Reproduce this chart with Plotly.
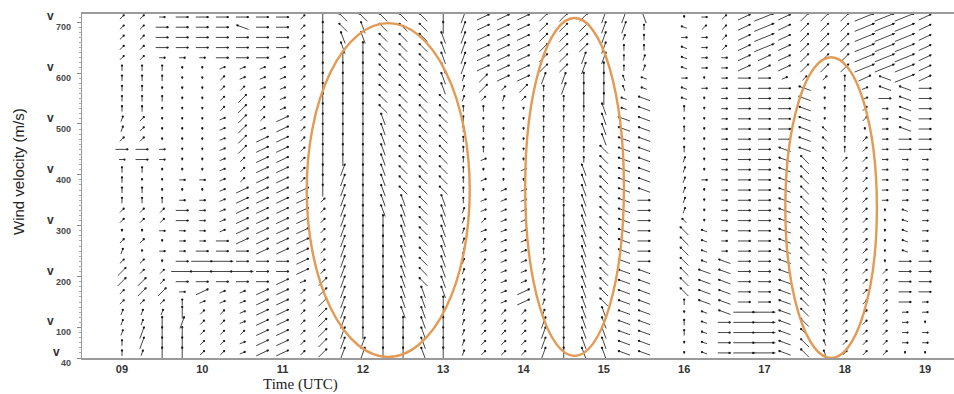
import plotly.graph_objects as go
import math

# ---------------- data ----------------
# column times (hours UTC), every 15 min from 09:00 to 19:00
times = [9 + 0.25 * k for k in range(41)]
# row heights (axis units), bottom to top
heights = [50 + 20 * r for r in range(34)]

# one string per column, one code per row (bottom -> top)
# code = orientation/length class of the drawn stick (see CODE_STYLE below)
columns = [
    "eeddd" "ccCCc" "dc." "cc" "eeee" "aA" "c" "dd" "eeeee" "ccccc",      # 09:00
    "dDDdd" "cCCcc" ".c." "cc" "ee.e" "AA" "c" "cc" "eeeee" "ccccc",      # 09:15
    "EEEEd" "cCcc." "a.a" "cc" "e..." "aa" "." ".." ".e.ee" "aAAAa",      # 09:30
    "EEEDE" "eaA=A" "aaa" "AA" "a.a." ".." "." ".." "....." "aAAAA",      # 09:45
    "ccccc" "bBA==" "Aaa" "aa" "a.a." "..." "......." "aAAAA",            # 10:00
    "ccccc" "bb" "A==" "AAb" "bb" "bbbb" "bbb" "bb" "ccc" "cb" "AAAAA",   # 10:15
    "bbcbb" "bb" "A=A" "ABB" "BB" "BBcc" "cCC" "CC" "CCc" "bb" "AAAHA",   # 10:30
    "BBBBB" "BB" "AAA" "BBB" "BB" "BBBB" "BBB" "bc" "ccb" "bb" "AAAAA",   # 10:45
    "BBBBB" "BB" "BAA" "BBB" "BB" "BBBB" "BBB" "BB" "bbb" "bb" "bAAAA",   # 11:00
    "ccccc" "cc" "bBB" "BBB" "BB" "BBcc" "ccc" "cc" "ccc" "cc" "ccccc",   # 11:15
    "CCCCC" "CCCcc" "cccccc" "EEEEEEEEEEEEEEEEEE",                        # 11:30
    "DDDDD" "DDDDD" "DDDDD" "DDDDE" "EEEEE" "EEEEE" "FFGG",               # 11:45
    "DDEEE" "EEEEEEEEEEEEEEEEEEEEEEEEE" "EFFG",                           # 12:00
    "EEEEE" "EEEEE" "EEEEF" "FFFFF" "FFFFG" "GGGGG" "GGGG",               # 12:15
    "EEEEF" "FFFFF" "FFFFF" "FGGGG" "GGGGG" "GGGGG" "GGGG",               # 12:30
    "FFFFF" "FFGGG" "GGGGG" "GGGGG" "GGGGG" "GGGGG" "GGGG",               # 12:45
    "EEEEE" "EFFFF" "FFFFF" "FGGGG" "GGGGG" "GFFFF" "FFEE",               # 13:00
    "ddddd" "ddddd" "ddddd" "eeeee" "eeeee" "dddDD" "DDDD",               # 13:15
    "ccccc" "ccccc" "bcbcb" "b.b.b" "e.e.e" "cCC" "BBBBBB",               # 13:30
    "ccccc" "bbbbb" "bbbbb" "bb..." "....." "dcB" "BBBBBB",               # 13:45
    "ccccc" "BBbbb" "bbbbb" "bb.b." "....." "cCB" "BBBBBB",               # 14:00
    "DDDDd" "ddddd" "eeeee" "eeeee" "eeeee" "eeD" "CCCCCC",               # 14:15
    "EEEEE" "EEEEE" "EEEEE" "eeeee" "eeeee" "eDD" "CCCCCC",               # 14:30
    "FFFFF" "FFFFF" "FFFFF" "FFFFe" "eeeee" "EEE" "DDCCCC",               # 14:45
    "FFFFF" "GGGGG" "GGGGG" "GGGGG" "GFFFF" "EEE" "EDDDDD",               # 15:00
    "HHHHH" "HHHHH" "HHHHH" "HHHHH" "HHHHh" "hff" "eeedDD",               # 15:15
    "HHHHH" "HHHHA" "AAAAA" "AHHHH" "HHHHH" "Hhh" "ddeeeF",               # 15:30
    "                                  ",                                 # 15:45 (missing)
    "..ee." "eGGGG" "GGGgd" "ddddd" "e.e.e" "hha" "hhhah.",               # 16:00
    "hhhhh" "HHHHh" "hhh.." "..a.." "....." ".a." "aaaaca",               # 16:15
    "AAAAH" "HHHHH" "aaaaa" "aaaaa" "aaaaa" "aaa" "aacccc",               # 16:30
    "=====" "AAAAA" "AAAAA" "AAAAA" "AAAAA" "AAA" "BBBBBB",               # 16:45
    "=====" "AAAAA" "AAAAA" "AAAAA" "AAAAA" "AAA" "BB~~~~",               # 17:00
    "HHHHH" "HHHHH" "HHHHH" "HHHHH" "HAAAA" "AAb" "BBBBBB",               # 17:15
    "GGGGG" "GGGGG" "GGGGG" "GGGGG" "HHHHH" "HHc" "CCCCCC",               # 17:30
    "fffff" "fffgg" "ggggg" "ggggg" "ggg.." "..c" "CCCCCC",               # 17:45
    "ccccc" "ccccc" "ccccc" "ccccc" "eeeee" "eee" "CCCCCC",               # 18:00
    "ccccc" "ccccc" "ccccc" "ccccc" "cc.cc" "bbB" "~~~~~~",               # 18:15
    "ccccc" "cccc." "....." "aaaaa" "aaaaa" "AHH" "~~~~~~",               # 18:30
    ".aaaa" "AAAAA" "hhhhh" "aaaaa" "AAHHH" "HH~" "~~~~~~",               # 18:45
    ".aa.a" "aAAAA" "aaaaa" "aaaaa" "AAAAA" "AAB" "BBBBBB",               # 19:00
]

xtick_vals = [9, 10, 11, 12, 13, 14, 15, 16, 17, 18, 19]
xtick_text = ["09", "10", "11", "12", "13", "14", "15", "16", "17", "18", "19"]
ytick_vals = [40, 100, 200, 300, 400, 500, 600, 700]

# highlighted regions (time range, height range)
ellipse_t0 = [11.30, 14.02, 17.26]
ellipse_t1 = [13.33, 15.25, 18.40]
ellipse_h0 = [42, 44, 40]
ellipse_h1 = [698, 708, 631]

# ---------------- styling ----------------
# code -> (angle in degrees, stick length in px)
CODE_STYLE = {
    ".": (90, 2),
    "a": (0, 6), "A": (0, 13), "=": (0, 22),
    "b": (22, 6), "B": (25, 14), "~": (22, 22),
    "c": (45, 6), "C": (45, 12),
    "d": (70, 6), "D": (70, 13),
    "e": (90, 6), "E": (90, 13),
    "f": (110, 6), "F": (110, 13),
    "g": (135, 6), "G": (135, 12),
    "h": (160, 6), "H": (160, 13),
}

W, H = 954, 394
ML, MR, MT, MB = 82, 0, 14, 36
X0, X1 = 8.502, 19.36
Y0, Y1 = 40, 716
plot_w = W - ML - MR
plot_h = H - MT - MB
kx = plot_w / (X1 - X0)   # px per hour
ky = plot_h / (Y1 - Y0)   # px per unit

lx, ly, hx, hy = [], [], [], []
for t, col in zip(times, columns):
    col = col.ljust(len(heights))[:len(heights)]
    for h, ch in zip(heights, col):
        if ch not in CODE_STYLE:
            continue
        ang, L = CODE_STYLE[ch]
        a = math.radians(ang)
        dx = 0.5 * L * math.cos(a) / kx
        dy = 0.5 * L * math.sin(a) / ky
        lx += [t - dx, t + dx, None]
        ly += [h - dy, h + dy, None]
        hx.append(t + dx * 0.8)
        hy.append(h + dy * 0.8)

fig = go.Figure()
fig.add_trace(go.Scatter(x=lx, y=ly, mode="lines",
                         line=dict(color="#454545", width=1),
                         hoverinfo="skip", showlegend=False))
fig.add_trace(go.Scatter(x=hx, y=hy, mode="markers",
                         marker=dict(color="#1a1a1a", size=2.3),
                         hoverinfo="skip", showlegend=False))

shapes = []
for t0, t1, h0, h1 in zip(ellipse_t0, ellipse_t1, ellipse_h0, ellipse_h1):
    shapes.append(dict(type="circle", xref="x", yref="y",
                       x0=t0, x1=t1, y0=h0, y1=h1,
                       line=dict(color="#E39A55", width=2.4)))

annotations = []
for v in ytick_vals:
    s = str(v)
    annotations.append(dict(xref="paper", yref="y", x=(73 - ML) / plot_w, y=v,
                            yshift=-5, xanchor="right", yanchor="middle",
                            text=s, showarrow=False,
                            font=dict(size=9, color="#4a4a4a", weight="bold",
                                      family="Liberation Sans")))
    annotations.append(dict(xref="paper", yref="y",
                            x=(73 - 5.2 * len(s) - 1 - ML) / plot_w, y=v,
                            yshift=6, xanchor="right", yanchor="middle",
                            text="v", showarrow=False,
                            font=dict(size=12, color="#333333", weight="bold",
                                      family="Liberation Sans")))
annotations.append(dict(xref="paper", yref="paper", x=(300 - ML) / plot_w,
                        y=-(394 - (H - MB)) / plot_h, xanchor="center",
                        yanchor="bottom", text="Time (UTC)", showarrow=False,
                        borderpad=0,
                        font=dict(size=15, color="#222222",
                                  family="Liberation Serif")))
annotations.append(dict(xref="paper", yref="paper", x=-(ML - 18) / plot_w,
                        y=(H - MB - 172) / plot_h, xanchor="center",
                        yanchor="middle", text="Wind velocity (m/s)",
                        textangle=-90, showarrow=False,
                        font=dict(size=15, color="#222222",
                                  family="Liberation Sans")))

fig.update_layout(
    width=W, height=H,
    margin=dict(l=ML, r=MR, t=MT, b=MB),
    paper_bgcolor="white", plot_bgcolor="white",
    shapes=shapes, annotations=annotations,
    xaxis=dict(range=[X0, X1], tickvals=xtick_vals, ticktext=xtick_text,
               tickfont=dict(size=11, color="#333333", weight="bold",
                             family="Liberation Sans"),
               showgrid=False, zeroline=False, showline=True,
               linecolor="#9a9a9a", linewidth=1.5, mirror=True,
               ticks="", ticklabelstandoff=0, fixedrange=True),
    yaxis=dict(range=[Y0, Y1], tickvals=ytick_vals, showticklabels=False,
               showgrid=False, zeroline=False, showline=True,
               linecolor="#9a9a9a", linewidth=1,
               ticks="outside", ticklen=4, tickcolor="#888888",
               minor=dict(dtick=10, ticks="outside", ticklen=2,
                          tickcolor="#aaaaaa"),
               fixedrange=True),
)

fig.write_html("out.html")
